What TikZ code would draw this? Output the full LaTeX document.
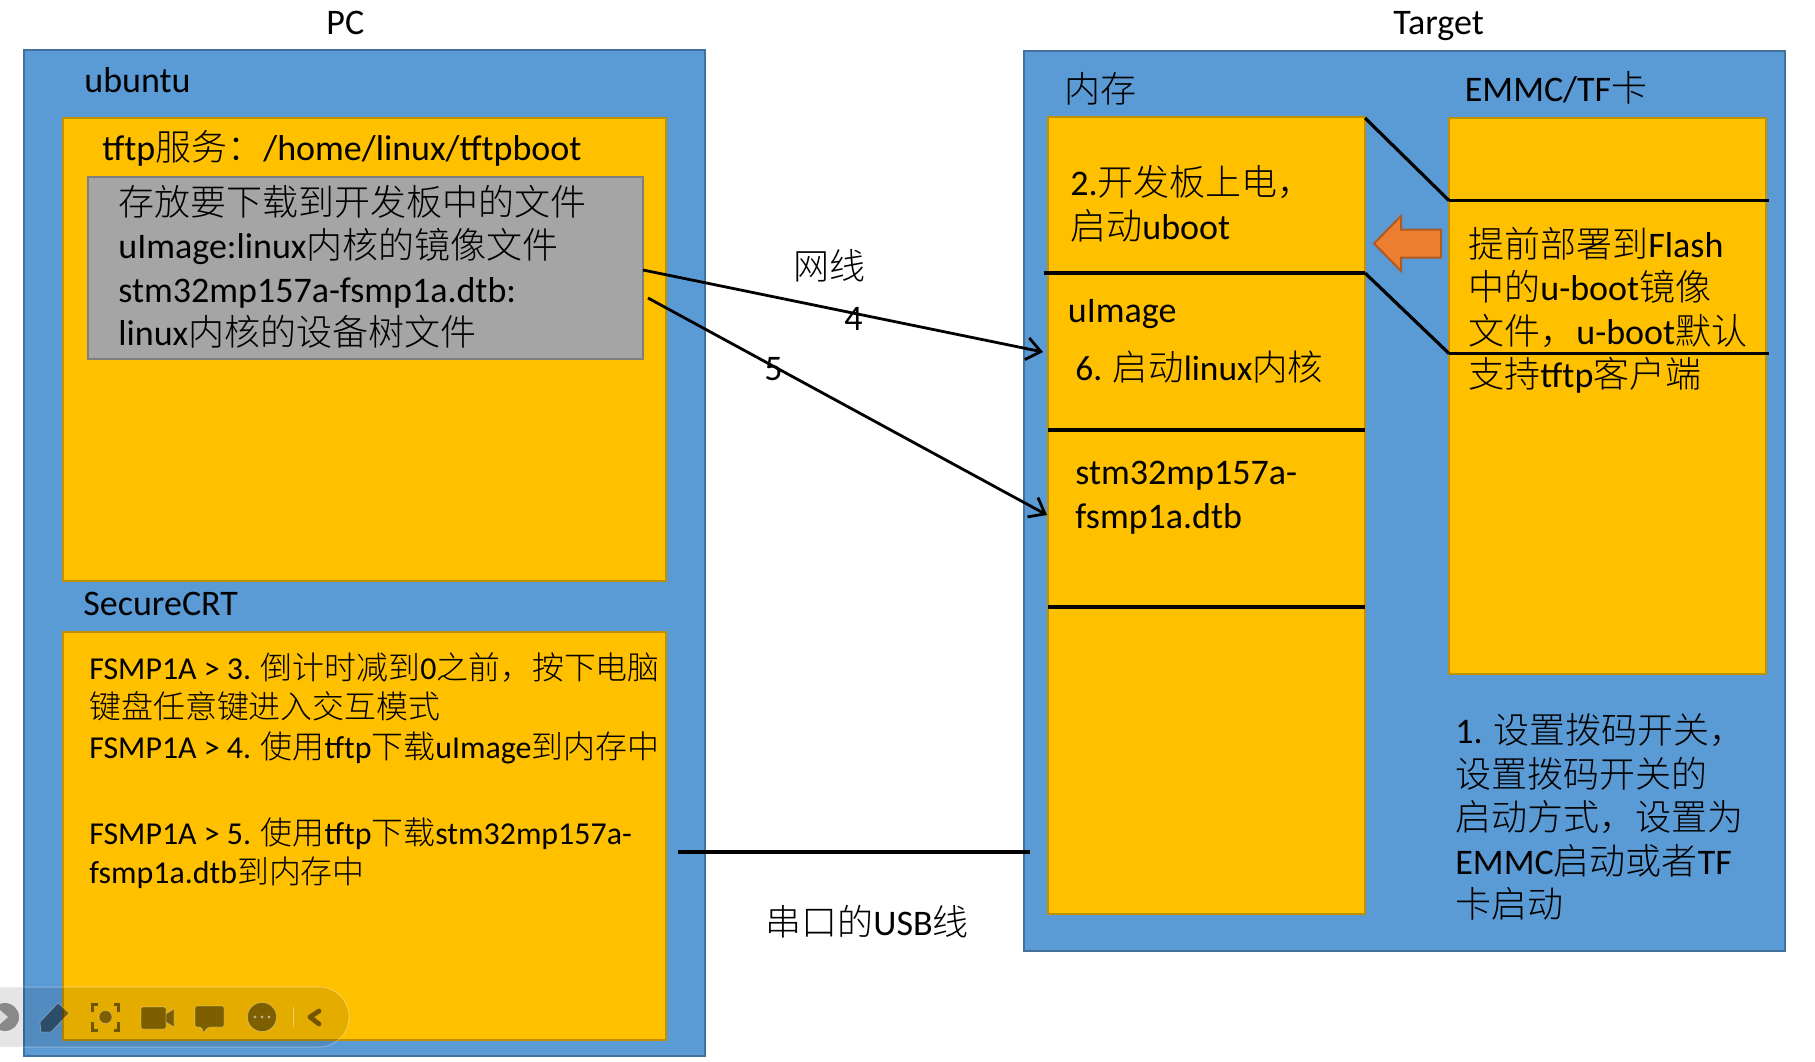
\documentclass[tikz,border=0pt]{standalone}
\usepackage{fontspec}
\setmainfont{Carlito}
\newfontfamily\cjk{Noto Sans CJK SC}[UprightFont=* Light]
\usetikzlibrary{arrows.meta}
\newcommand{\zh}[1]{{\cjk #1}}
\definecolor{panelblue}{HTML}{5B9BD5}
\definecolor{panelblueedge}{HTML}{41719C}
\definecolor{cellyellow}{HTML}{FFC000}
\definecolor{cellyellowedge}{HTML}{BF9000}
\definecolor{notegray}{HTML}{A5A5A5}
\definecolor{notegrayedge}{HTML}{7F7F7F}
\definecolor{bootorange}{HTML}{ED7D31}
\definecolor{bootorangeedge}{HTML}{AE5A21}
\tikzset{
  cellbox/.style={rectangle,anchor=north west,inner sep=0pt,outer sep=0pt,line width=1pt},
  bluebox/.style={cellbox,draw=panelblueedge,fill=panelblue},
  yellowbox/.style={cellbox,draw=cellyellowedge,fill=cellyellow},
  graybox/.style={cellbox,draw=notegrayedge,fill=notegray},
  bigtext/.style={anchor=base west,inner sep=0pt,align=left,font=\fontsize{18}{21.75}\selectfont},
  smalltext/.style={anchor=base west,inner sep=0pt,align=left,font=\fontsize{15.95}{19.25}\selectfont},
  sepline/.style={line width=1.6pt},
  wireline/.style={line width=1.4pt,-{Straight Barb[length=7pt,width=11pt,line width=1.4pt]}},
  toolicon/.style={fill=black,fill opacity=.45,draw=white,draw opacity=.3,line width=.4pt}
}
\begin{document}
\begin{tikzpicture}[x=0.5pt,y=-0.5pt]
\useasboundingbox (0,0) rectangle (1815,1061);
\clip (0,0) rectangle (1815,1061);
% PC side
\node[bluebox,minimum width=340.5pt,minimum height=503pt] (pcbox) at (24,50) {};
\node[yellowbox,minimum width=301.5pt,minimum height=231.5pt] (tftpbox) at (62.5,118) {};
\node[graybox,minimum width=277.5pt,minimum height=91pt] (filebox) at (87.5,177) {};
\node[yellowbox,minimum width=301.5pt,minimum height=204pt] (crtbox) at (62.5,632) {};
% Target side
\node[bluebox,minimum width=380.5pt,minimum height=450pt] (targetbox) at (1024,51) {};
\node[yellowbox,minimum width=158.5pt,minimum height=398.5pt] (membox) at (1048,117) {};
\node[yellowbox,minimum width=158.5pt,minimum height=278pt] (emmcbox) at (1449,118) {};
% lines inside the two columns
\coordinate (memaL) at (1044,273);
\coordinate (memaR) at (1365,273);
\coordinate (membL) at (1048,430);
\coordinate (membR) at (1365,430);
\coordinate (memcL) at (1048,607);
\coordinate (memcR) at (1365,607);
\coordinate (memtop) at (1365,118);
\coordinate (emmcaL) at (1449,200.5);
\coordinate (emmcaR) at (1769,200.5);
\coordinate (emmcbL) at (1449,353.5);
\coordinate (emmcbR) at (1769,353.5);
\draw[sepline] (memaL)-- (memaR);
\draw[sepline] (membL)-- (membR);
\draw[sepline] (memcL)-- (memcR);
\draw[sepline] (emmcaL)-- (emmcaR);
\draw[sepline] (emmcbL)-- (emmcbR);
\draw[sepline] (memtop)-- (emmcaL);
\draw[sepline] (memaR)-- (emmcbL);
\draw[line width=1pt,draw=bootorangeedge,fill=bootorange] (1374,243.5)-- (1401,216)-- (1401,229.5)-- (1441,229.5)-- (1441,257.5)-- (1401,257.5)-- (1401,271)-- cycle;
% wires
\coordinate (wireaS) at (643,270);
\coordinate (wireaE) at (1043,352);
\coordinate (wirebS) at (648,298);
\coordinate (wirebE) at (1047,515);
\coordinate (usbS) at (678,852);
\coordinate (usbE) at (1030,852);
\draw[wireline] (wireaS)-- (wireaE);
\draw[wireline] (wirebS)-- (wirebE);
\draw[sepline] (usbS)-- (usbE);
% texts, base is the last line of each node
\node[bigtext] (pclabel) at (326,34) {PC};
\node[bigtext] (targetlabel) at (1393,34) {Target};
\node[bigtext] (ubuntulabel) at (84,92.5) {ubuntu};
\node[bigtext] (tftplabel) at (102,160) {tftp\zh{服务：}/home/linux/tftpboot};
\node[bigtext] (filetext) at (118,345.5) {\zh{存放要下载到开发板中的文件}\\uImage:linux\zh{内核的镜像文件}\\stm32mp157a-fsmp1a.dtb:\\linux\zh{内核的设备树文件}};
\node[bigtext] (crtlabel) at (83,615) {SecureCRT};
\node[smalltext] (crtthree) at (89,718) {FSMP1A > 3. \zh{倒计时减到}0\zh{之前，按下电脑}\\\zh{键盘任意键进入交互模式}};
\node[smalltext] (crtfour) at (89,758) {FSMP1A > 4. \zh{使用}tftp\zh{下载}uImage\zh{到内存中}};
\node[smalltext] (crtfive) at (89,883) {FSMP1A > 5. \zh{使用}tftp\zh{下载}stm32mp157a-\\fsmp1a.dtb\zh{到内存中}};
\node[bigtext] (memlabel) at (1064,102) {\zh{内存}};
\node[bigtext] (emmclabel) at (1464.5,101) {EMMC/TF\zh{卡}};
\node[bigtext] (powertext) at (1070,239) {2.\zh{开发板上电，}\\\zh{启动}uboot};
\node[bigtext] (uimagetext) at (1067.5,322) {uImage};
\node[bigtext,font=\fontsize{17.7}{21.75}\selectfont] (kerneltext) at (1075,380) {6. \zh{启动}linux\zh{内核}};
\node[bigtext] (dtbtext) at (1075,528) {stm32mp157a-\\fsmp1a.dtb};
\node[bigtext] (flashtext) at (1468,387.5) {\zh{提前部署到}Flash\\\zh{中的}u-boot\zh{镜像}\\\zh{文件，}u-boot\zh{默认}\\\zh{支持}tftp\zh{客户端}};
\node[bigtext] (switchtext) at (1455,917.5) {1. \zh{设置拨码开关，}\\\zh{设置拨码开关的}\\\zh{启动方式，设置为}\\EMMC\zh{启动或者}TF\\\zh{卡启动}};
\node[bigtext] (netlabel) at (793.5,279) {\zh{网线}};
\node[bigtext] (fourlabel) at (844,330) {4};
\node[bigtext] (fivelabel) at (764,380) {5};
\node[bigtext] (usblabel) at (765,935) {\zh{串口的}USB\zh{线}};
% toolbar on top
\path[fill=black,fill opacity=.1,draw=white,draw opacity=.3,line width=.5pt,rounded corners=14.9pt] (-40,987) rectangle (349,1047);
\fill[black,fill opacity=.4] (5,1017) circle (14);
\fill[white,fill opacity=.7] (0,1010)-- (8,1017)-- (0,1024)-- cycle;
\draw[toolicon] (40,1022)-- (58,1003)-- (69,1013)-- (51,1032)-- (41,1032)-- cycle;
\draw[toolicon] (105.5,1017) circle (6.5);
\foreach \sx/\sy in {1/1,-1/1,1/-1,-1/-1}
  \draw[black,draw opacity=.5,line width=1.5pt] (105.5+13*\sx,1017+5*\sy)-- ++(0,8*\sy)-- ++(-5*\sx,0);
\draw[toolicon,rounded corners=1pt] (141,1007) rectangle (166,1029);
\draw[toolicon] (166,1014)-- (174,1009)-- (174,1027)-- (166,1022)-- cycle;
\draw[toolicon,rounded corners=1pt] (195,1006)-- (224,1006)-- (224,1027)-- (208,1027)-- (203,1033)-- (202,1027)-- (195,1027)-- cycle;
\draw[toolicon] (262,1017) circle (14.5);
\foreach \dx in {-7,0,7}
  \fill[white,fill opacity=.5] (262+\dx,1017) circle (1.6);
\draw[white,draw opacity=.4,line width=.5pt] (293,1007)-- (293,1027);
\draw[black,draw opacity=.5,line width=2.4pt,line cap=round,line join=round] (319,1011)-- (310,1017)-- (319,1024);
\end{tikzpicture}
\end{document}
